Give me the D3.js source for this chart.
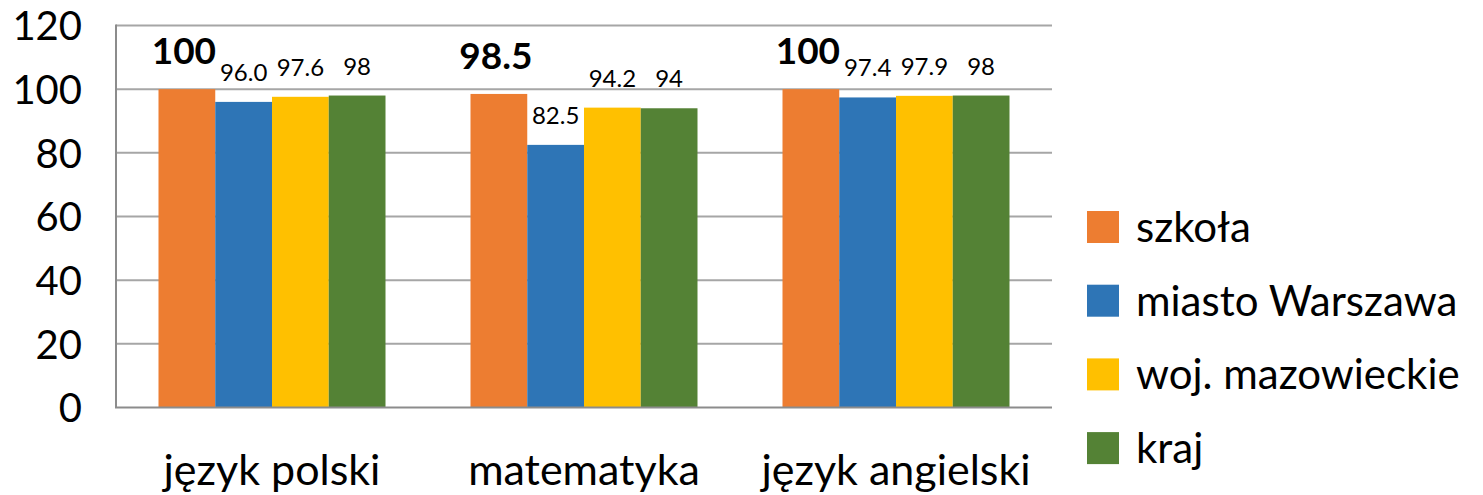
<!DOCTYPE html>
<html>
<head>
<meta charset="utf-8">
<script src="https://cdn.jsdelivr.net/npm/d3@7"></script>
<style>
  body { margin: 0; background: #fff; }
  text { font-family: Lato, "Open Sans", sans-serif; fill: #000; }
  .axis path, .axis line { stroke: none; }
</style>
</head>
<body>
<div id="bar-graph"></div>
<script>
// chart data
var subjects = ["język polski", "matematyka", "język angielski"];
var seriesNames = ["szkoła", "miasto Warszawa", "woj. mazowieckie", "kraj"];
var szkola = [100, 98.5, 100];
var warszawa = [96.0, 82.5, 97.4];
var mazowieckie = [97.6, 94.2, 97.9];
var kraj = [98, 94, 98];
var valueLabels = [
    ["100", "98.5", "100"],
    ["96.0", "82.5", "97.4"],
    ["97.6", "94.2", "97.9"],
    ["98", "94", "98"]
];
var yTicks = [0, 20, 40, 60, 80, 100, 120];

var series = [szkola, warszawa, mazowieckie, kraj];
var color = ["#ED7D31", "#2E75B6", "#FFC000", "#548235"];

//Width and height
var w = 1483;
var h = 495;
var plotLeft = 116, plotRight = 1052, plotTop = 25.5, plotBottom = 407.5;
var groupWidth = 227;

var svg = d3.select("#bar-graph")
            .append("svg")
            .attr("width", w)
            .attr("height", h);

var xScale = d3.scaleBand()
               .domain(d3.range(subjects.length))
               .range([plotLeft, plotRight]);

// bars of one subject sit together in the middle of the band
var innerScale = d3.scaleBand()
                   .domain(d3.range(series.length))
                   .range([(xScale.bandwidth() - groupWidth) / 2, (xScale.bandwidth() + groupWidth) / 2]);

var yScale = d3.scaleLinear()
               .domain([0, 120])
               .range([plotBottom, plotTop]);

//Gridlines
svg.append("g")
   .selectAll("line")
   .data(yTicks.filter(function(d) { return d > 0; }))
   .enter()
   .append("line")
   .attr("x1", plotLeft)
   .attr("x2", plotRight)
   .attr("y1", function(d) { return yScale(d); })
   .attr("y2", function(d) { return yScale(d); })
   .attr("stroke", "#a6a6a6")
   .attr("stroke-width", 2);

//Bars
for (let s = 0; s < series.length; s++) {
    svg.append("g")
       .selectAll("rect")
       .data(series[s])
       .enter()
       .append("rect")
       .attr("x", function(d, i) { return xScale(i) + innerScale(s); })
       .attr("y", function(d) { return yScale(d); })
       .attr("width", innerScale.bandwidth())
       .attr("height", function(d) { return plotBottom - yScale(d); })
       .attr("fill", color[s]);
}

//Value labels (school values are bold and a bit to the left)
for (let s = 0; s < series.length; s++) {
    svg.append("g")
       .selectAll("text")
       .data(series[s])
       .enter()
       .append("text")
       .attr("x", function(d, i) {
           return xScale(i) + innerScale(s) + innerScale.bandwidth() / 2 - (s == 0 ? 3 : 0);
       })
       .attr("y", function(d) { return yScale(d) - (s == 0 ? 25 : 21); })
       .attr("text-anchor", "middle")
       .style("font-size", s == 0 ? "37px" : "24px")
       .style("font-weight", s == 0 ? "bold" : "normal")
       .text(function(d, i) { return valueLabels[s][i]; });
}

//Axis lines
svg.append("line")
   .attr("x1", plotLeft).attr("x2", plotLeft)
   .attr("y1", plotTop - 1).attr("y2", plotBottom)
   .attr("stroke", "#8c8c8c").attr("stroke-width", 2);
svg.append("line")
   .attr("x1", plotLeft - 1).attr("x2", plotRight)
   .attr("y1", plotBottom).attr("y2", plotBottom)
   .attr("stroke", "#8c8c8c").attr("stroke-width", 2);

//Y axis
var yAxis = d3.axisLeft(yScale)
              .tickValues(yTicks)
              .tickSize(0)
              .tickPadding(0);
var gy = svg.append("g")
            .attr("class", "axis")
            .attr("transform", "translate(82,0)")
            .call(yAxis);
gy.selectAll("text")
  .style("font-size", "40px")
  .attr("dy", "0.36em");

//X axis
var xAxis = d3.axisBottom(xScale)
              .tickFormat(function(d) { return subjects[d]; })
              .tickSize(0)
              .tickPadding(0);
var gx = svg.append("g")
            .attr("class", "axis")
            .attr("transform", "translate(0,485)")
            .call(xAxis);
gx.selectAll("text")
  .style("font-size", "43px")
  .attr("dy", 0)
  .attr("y", 0);

//Legend
var legend = svg.append("g")
                .selectAll("g")
                .data(seriesNames)
                .enter()
                .append("g")
                .attr("transform", function(d, i) { return "translate(1087," + (211 + i * 73.7) + ")"; });
legend.append("rect")
      .attr("width", 32)
      .attr("height", 32)
      .attr("fill", function(d, i) { return color[i]; });
legend.append("text")
      .attr("x", 49)
      .attr("y", 31)
      .style("font-size", "42px")
      .text(function(d) { return d; });
</script>
</body>
</html>
